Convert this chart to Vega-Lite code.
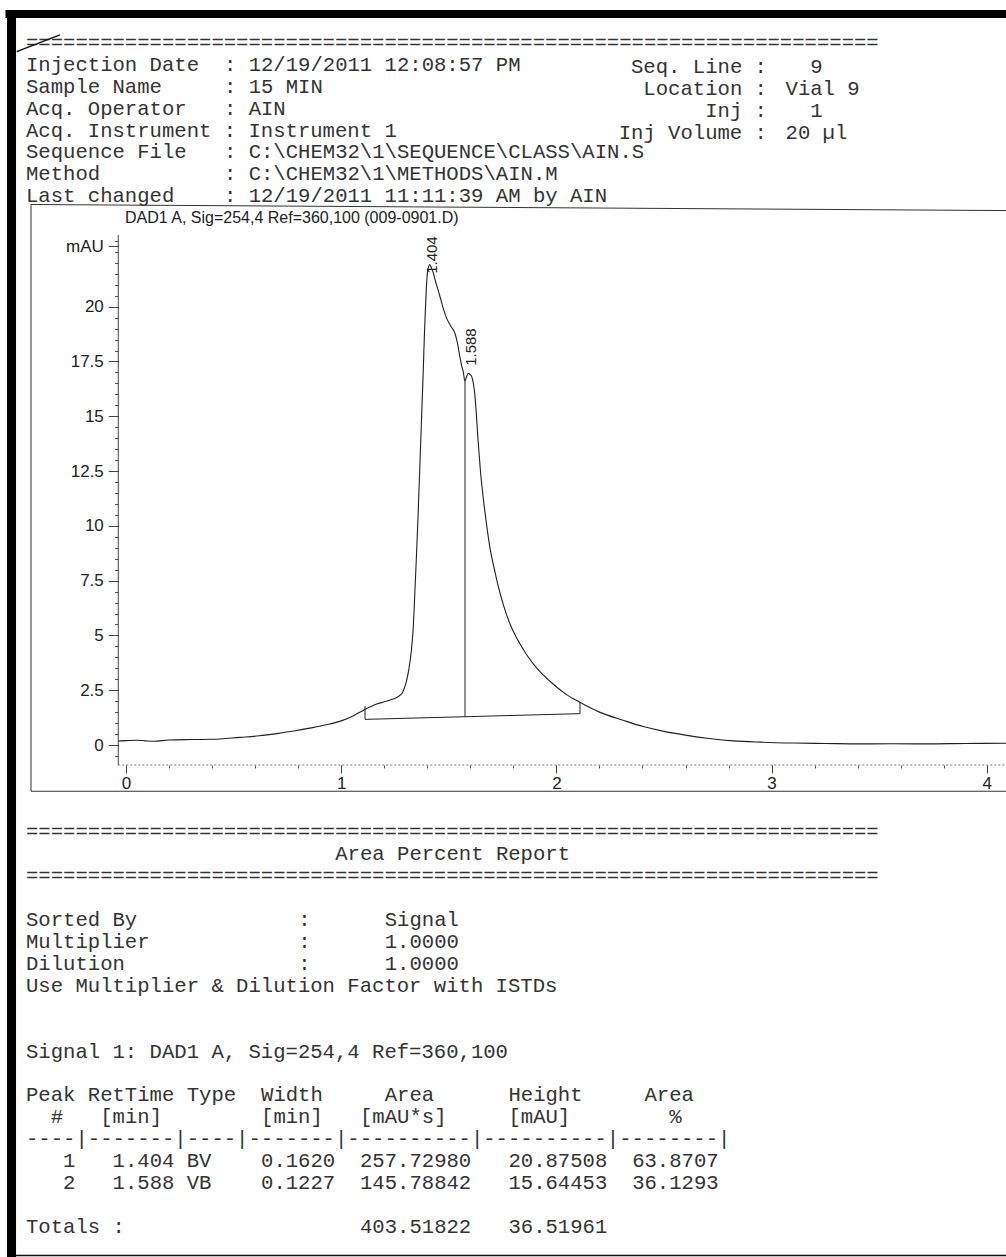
{
  "$schema": "https://vega.github.io/schema/vega-lite/v6.json",
  "width": 1006,
  "height": 1257,
  "padding": 0,
  "autosize": {"type": "none"},
  "background": "#ffffff",
  "config": {"view": {"stroke": null}},
  "datasets": {
    "textL": [
      {"col": 0, "n": 0, "text": "====================================================================="},
      {"col": 0, "n": 1, "text": "Injection Date"},
      {"col": 16, "n": 1, "text": ": 12/19/2011 12:08:57 PM"},
      {"col": 0, "n": 2, "text": "Sample Name"},
      {"col": 16, "n": 2, "text": ": 15 MIN"},
      {"col": 0, "n": 3, "text": "Acq. Operator"},
      {"col": 16, "n": 3, "text": ": AIN"},
      {"col": 0, "n": 4, "text": "Acq. Instrument : Instrument 1"},
      {"col": 0, "n": 5, "text": "Sequence File"},
      {"col": 16, "n": 5, "text": ": C:\\CHEM32\\1\\SEQUENCE\\CLASS\\AIN.S"},
      {"col": 0, "n": 6, "text": "Method"},
      {"col": 16, "n": 6, "text": ": C:\\CHEM32\\1\\METHODS\\AIN.M"},
      {"col": 0, "n": 7, "text": "Last changed"},
      {"col": 16, "n": 7, "text": ": 12/19/2011 11:11:39 AM by AIN"},
      {"col": 63.4, "n": 1.117, "text": "9"},
      {"col": 61.4, "n": 2.107, "text": "Vial 9"},
      {"col": 63.4, "n": 3.096, "text": "1"},
      {"col": 61.4, "n": 4.126, "text": "20 µl"},
      {"col": 0, "n": 36, "text": "====================================================================="},
      {"col": 25, "n": 37, "text": "Area Percent Report"},
      {"col": 0, "n": 38, "text": "====================================================================="},
      {"col": 0, "n": 40, "text": "Sorted By"},
      {"col": 22, "n": 40, "text": ":"},
      {"col": 29, "n": 40, "text": "Signal"},
      {"col": 0, "n": 41, "text": "Multiplier"},
      {"col": 22, "n": 41, "text": ":"},
      {"col": 29, "n": 41, "text": "1.0000"},
      {"col": 0, "n": 42, "text": "Dilution"},
      {"col": 22, "n": 42, "text": ":"},
      {"col": 29, "n": 42, "text": "1.0000"},
      {"col": 0, "n": 43, "text": "Use Multiplier & Dilution Factor with ISTDs"},
      {"col": 0, "n": 46, "text": "Signal 1: DAD1 A, Sig=254,4 Ref=360,100"},
      {"col": 0, "n": 48, "text": "Peak RetTime Type"},
      {"col": 19, "n": 48, "text": "Width"},
      {"col": 29, "n": 48, "text": "Area"},
      {"col": 39, "n": 48, "text": "Height"},
      {"col": 50, "n": 48, "text": "Area"},
      {"col": 2, "n": 49, "text": "#"},
      {"col": 6, "n": 49, "text": "[min]"},
      {"col": 19, "n": 49, "text": "[min]"},
      {"col": 27, "n": 49, "text": "[mAU*s]"},
      {"col": 39, "n": 49, "text": "[mAU]"},
      {"col": 52, "n": 49, "text": "%"},
      {"col": 0, "n": 50, "text": "----|-------|----|-------|----------|----------|--------|"},
      {"col": 3, "n": 51, "text": "1"},
      {"col": 7, "n": 51, "text": "1.404 BV"},
      {"col": 19, "n": 51, "text": "0.1620"},
      {"col": 27, "n": 51, "text": "257.72980"},
      {"col": 39, "n": 51, "text": "20.87508"},
      {"col": 49, "n": 51, "text": "63.8707"},
      {"col": 3, "n": 52, "text": "2"},
      {"col": 7, "n": 52, "text": "1.588 VB"},
      {"col": 19, "n": 52, "text": "0.1227"},
      {"col": 27, "n": 52, "text": "145.78842"},
      {"col": 39, "n": 52, "text": "15.64453"},
      {"col": 49, "n": 52, "text": "36.1293"},
      {"col": 0, "n": 54, "text": "Totals :"},
      {"col": 27, "n": 54, "text": "403.51822"},
      {"col": 39, "n": 54, "text": "36.51961"}
    ],
    "textR": [
      {"col": 59.9, "n": 1.117, "text": "Seq. Line :"},
      {"col": 59.9, "n": 2.107, "text": "Location :"},
      {"col": 59.9, "n": 3.096, "text": "Inj :"},
      {"col": 59.9, "n": 4.126, "text": "Inj Volume :"}
    ],
    "trace": [
      {"t": -0.036, "mAU": 0.18}, {"t": 0.0, "mAU": 0.2}, {"t": 0.05, "mAU": 0.22}, {"t": 0.09, "mAU": 0.19},
      {"t": 0.13, "mAU": 0.17}, {"t": 0.2, "mAU": 0.23}, {"t": 0.3, "mAU": 0.25}, {"t": 0.4, "mAU": 0.26},
      {"t": 0.53, "mAU": 0.35}, {"t": 0.62, "mAU": 0.42}, {"t": 0.7, "mAU": 0.52}, {"t": 0.78, "mAU": 0.64},
      {"t": 0.86, "mAU": 0.78}, {"t": 0.93, "mAU": 0.92}, {"t": 1.0, "mAU": 1.1}, {"t": 1.06, "mAU": 1.35},
      {"t": 1.11, "mAU": 1.62}, {"t": 1.165, "mAU": 1.87}, {"t": 1.2, "mAU": 1.97}, {"t": 1.23, "mAU": 2.06},
      {"t": 1.26, "mAU": 2.18}, {"t": 1.285, "mAU": 2.4}, {"t": 1.303, "mAU": 2.9}, {"t": 1.315, "mAU": 3.5},
      {"t": 1.326, "mAU": 4.3}, {"t": 1.335, "mAU": 5.4}, {"t": 1.342, "mAU": 6.9}, {"t": 1.35, "mAU": 8.7},
      {"t": 1.357, "mAU": 10.4}, {"t": 1.365, "mAU": 12.6}, {"t": 1.373, "mAU": 14.8}, {"t": 1.381, "mAU": 17.0},
      {"t": 1.388, "mAU": 19.1}, {"t": 1.395, "mAU": 20.7}, {"t": 1.401, "mAU": 21.6}, {"t": 1.407, "mAU": 21.85},
      {"t": 1.412, "mAU": 21.92}, {"t": 1.42, "mAU": 21.75}, {"t": 1.427, "mAU": 21.57}, {"t": 1.44, "mAU": 21.1},
      {"t": 1.458, "mAU": 20.5}, {"t": 1.475, "mAU": 19.9}, {"t": 1.489, "mAU": 19.5}, {"t": 1.51, "mAU": 19.1},
      {"t": 1.528, "mAU": 18.8}, {"t": 1.54, "mAU": 18.35}, {"t": 1.551, "mAU": 17.73}, {"t": 1.56, "mAU": 17.3},
      {"t": 1.567, "mAU": 17.04}, {"t": 1.575, "mAU": 16.6}, {"t": 1.582, "mAU": 16.8}, {"t": 1.59, "mAU": 16.95},
      {"t": 1.6, "mAU": 16.9}, {"t": 1.607, "mAU": 16.8}, {"t": 1.614, "mAU": 16.5}, {"t": 1.621, "mAU": 15.99},
      {"t": 1.628, "mAU": 15.1}, {"t": 1.636, "mAU": 13.9}, {"t": 1.647, "mAU": 12.5}, {"t": 1.66, "mAU": 11.28},
      {"t": 1.675, "mAU": 10.1}, {"t": 1.691, "mAU": 9.01}, {"t": 1.71, "mAU": 8.1}, {"t": 1.729, "mAU": 7.27},
      {"t": 1.755, "mAU": 6.35}, {"t": 1.784, "mAU": 5.53}, {"t": 1.82, "mAU": 4.8}, {"t": 1.861, "mAU": 4.13},
      {"t": 1.91, "mAU": 3.5}, {"t": 1.97, "mAU": 2.91}, {"t": 2.047, "mAU": 2.3}, {"t": 2.109, "mAU": 1.95},
      {"t": 2.2, "mAU": 1.5}, {"t": 2.31, "mAU": 1.13}, {"t": 2.404, "mAU": 0.84}, {"t": 2.5, "mAU": 0.62},
      {"t": 2.606, "mAU": 0.44}, {"t": 2.71, "mAU": 0.3}, {"t": 2.822, "mAU": 0.19}, {"t": 2.95, "mAU": 0.13},
      {"t": 3.1, "mAU": 0.09}, {"t": 3.25, "mAU": 0.07}, {"t": 3.41, "mAU": 0.05}, {"t": 3.56, "mAU": 0.06},
      {"t": 3.72, "mAU": 0.05}, {"t": 3.9, "mAU": 0.07}, {"t": 4.09, "mAU": 0.08}
    ],
    "segs": [
      {"t1": 1.1106, "v1": 1.17, "t2": 2.1097, "v2": 1.43},
      {"t1": 1.1106, "v1": 1.17, "t2": 1.1106, "v2": 1.78},
      {"t1": 2.1097, "v1": 1.43, "t2": 2.1097, "v2": 1.95},
      {"t1": 1.5753, "v1": 1.291, "t2": 1.5753, "v2": 16.6}
    ],
    "peaks": [
      {"rt": 1.404, "top": 21.5, "label": "1.404"},
      {"rt": 1.588, "top": 17.3, "label": "1.588"}
    ]
  },
  "layer": [
    {
      "layer": [
        {
          "data": {"name": "textL"},
          "mark": {"type": "text", "align": "left", "baseline": "alphabetic", "font": "Liberation Mono", "fontSize": 20.6, "color": "#333333"},
          "encoding": {
            "x": {"field": "col", "type": "quantitative", "scale": {"domain": [-2.102, 79.224], "nice": false, "zero": false}, "axis": null},
            "y": {"field": "n", "type": "quantitative", "scale": {"domain": [-2.2253, 55.093], "reverse": true, "nice": false, "zero": false}, "axis": null},
            "text": {"field": "text"}
          }
        },
        {
          "data": {"name": "textR"},
          "mark": {"type": "text", "align": "right", "baseline": "alphabetic", "font": "Liberation Mono", "fontSize": 20.6, "color": "#333333"},
          "encoding": {
            "x": {"field": "col", "type": "quantitative", "scale": {"domain": [-2.102, 79.224], "nice": false, "zero": false}, "axis": null},
            "y": {"field": "n", "type": "quantitative", "scale": {"domain": [-2.2253, 55.093], "reverse": true, "nice": false, "zero": false}, "axis": null},
            "text": {"field": "text"}
          }
        }
      ]
    },
    {
      "layer": [
        {
          "data": {"values": [{}]},
          "mark": {"type": "rect", "color": "#000000"},
          "encoding": {
            "x": {"datum": -0.56, "type": "quantitative", "scale": {"domain": [-0.5855, 4.0892], "nice": false, "zero": false}, "axis": null},
            "x2": {"datum": 4.2},
            "y": {"datum": 33.539, "type": "quantitative", "scale": {"domain": [-23.363, 33.995], "nice": false, "zero": false}, "axis": null},
            "y2": {"datum": 33.174}
          }
        },
        {
          "data": {"values": [{}]},
          "mark": {"type": "rect", "color": "#000000"},
          "encoding": {
            "x": {"datum": -0.553, "type": "quantitative", "scale": {"domain": [-0.5855, 4.0892], "nice": false, "zero": false}, "axis": null},
            "x2": {"datum": -0.511},
            "y": {"datum": 33.539, "type": "quantitative", "scale": {"domain": [-23.363, 33.995], "nice": false, "zero": false}, "axis": null},
            "y2": {"datum": -23.4}
          }
        },
        {
          "data": {"values": [{}]},
          "mark": {"type": "rule", "color": "#111111", "strokeWidth": 1.5},
          "encoding": {
            "x": {"datum": -0.511, "type": "quantitative", "scale": {"domain": [-0.5855, 4.0892], "nice": false, "zero": false}, "axis": null},
            "x2": {"datum": 4.2},
            "y": {"datum": -23.29, "type": "quantitative", "scale": {"domain": [-23.363, 33.995], "nice": false, "zero": false}, "axis": null}
          }
        },
        {
          "data": {"values": [{}]},
          "mark": {"type": "rule", "color": "#111111", "strokeWidth": 1.3},
          "encoding": {
            "x": {"datum": -0.508, "type": "quantitative", "scale": {"domain": [-0.5855, 4.0892], "nice": false, "zero": false}, "axis": null},
            "x2": {"datum": -0.3067},
            "y": {"datum": 31.64, "type": "quantitative", "scale": {"domain": [-23.363, 33.995], "nice": false, "zero": false}, "axis": null},
            "y2": {"datum": 32.4}
          }
        },
        {
          "data": {"values": [{}]},
          "mark": {"type": "rule", "color": "#333333", "strokeWidth": 1},
          "encoding": {
            "x": {"datum": -0.4414, "type": "quantitative", "scale": {"domain": [-0.5855, 4.0892], "nice": false, "zero": false}, "axis": null},
            "y": {"datum": -2.11, "type": "quantitative", "scale": {"domain": [-23.363, 33.995], "nice": false, "zero": false}, "axis": null},
            "y2": {"datum": 24.663}
          }
        },
        {
          "data": {"values": [{}]},
          "mark": {"type": "rule", "color": "#333333", "strokeWidth": 1},
          "encoding": {
            "x": {"datum": -0.4414, "type": "quantitative", "scale": {"domain": [-0.5855, 4.0892], "nice": false, "zero": false}, "axis": null},
            "x2": {"datum": 4.2},
            "y": {"datum": 24.663, "type": "quantitative", "scale": {"domain": [-23.363, 33.995], "nice": false, "zero": false}, "axis": null},
            "y2": {"datum": 24.38}
          }
        },
        {
          "data": {"values": [{}]},
          "mark": {"type": "rule", "color": "#333333", "strokeWidth": 1.2},
          "encoding": {
            "x": {"datum": -0.4414, "type": "quantitative", "scale": {"domain": [-0.5855, 4.0892], "nice": false, "zero": false}, "axis": null},
            "x2": {"datum": 4.2},
            "y": {"datum": -2.11, "type": "quantitative", "scale": {"domain": [-23.363, 33.995], "nice": false, "zero": false}, "axis": null}
          }
        },
        {
          "data": {"values": [{}]},
          "mark": {"type": "rule", "color": "#444444", "strokeWidth": 1},
          "encoding": {
            "x": {"datum": -0.0358, "type": "quantitative", "scale": {"domain": [-0.5855, 4.0892], "nice": false, "zero": false}, "axis": null},
            "y": {"datum": -0.913, "type": "quantitative", "scale": {"domain": [-23.363, 33.995], "nice": false, "zero": false},
              "axis": {"orient": "left", "offset": -118.3, "values": [-0.5, 0, 0.5, 1, 1.5, 2, 2.5, 3, 3.5, 4, 4.5, 5, 5.5, 6, 6.5, 7, 7.5, 8, 8.5, 9, 9.5, 10, 10.5, 11, 11.5, 12, 12.5, 13, 13.5, 14, 14.5, 15, 15.5, 16, 16.5, 17, 17.5, 18, 18.5, 19, 19.5, 20, 20.5, 21, 21.5, 22, 22.5, 23], "labels": false, "domain": false, "grid": false, "ticks": true, "tickSize": 4, "tickColor": "#555555", "tickWidth": 1, "title": null}},
            "y2": {"datum": 23.27}
          }
        },
        {
          "data": {"values": [{}]},
          "mark": {"type": "rule", "color": "#777777", "strokeWidth": 1, "strokeDash": [2, 2]},
          "encoding": {
            "x": {"datum": -0.0358, "type": "quantitative", "scale": {"domain": [-0.5855, 4.0892], "nice": false, "zero": false},
              "axis": {"orient": "bottom", "offset": -492, "values": [0, 0.2, 0.4, 0.6, 0.8, 1, 1.2, 1.4, 1.6, 1.8, 2, 2.2, 2.4, 2.6, 2.8, 3, 3.2, 3.4, 3.6, 3.8, 4], "labels": false, "domain": false, "grid": false, "ticks": true, "tickSize": 3, "tickColor": "#555555", "tickWidth": 1, "title": null}},
            "x2": {"datum": 4.2},
            "y": {"datum": -0.913, "type": "quantitative", "scale": {"domain": [-23.363, 33.995], "nice": false, "zero": false}, "axis": null}
          }
        },
        {
          "data": {"values": [{}]},
          "mark": {"type": "text", "text": "DAD1 A, Sig=254,4 Ref=360,100 (009-0901.D)", "font": "Liberation Sans", "fontSize": 16, "align": "left", "baseline": "alphabetic", "color": "#222222"},
          "encoding": {
            "x": {"datum": -0.0046, "type": "quantitative", "scale": {"domain": [-0.5855, 4.0892], "nice": false, "zero": false}, "axis": null},
            "y": {"datum": 23.83, "type": "quantitative", "scale": {"domain": [-23.363, 33.995], "nice": false, "zero": false}, "axis": null}
          }
        },
        {
          "data": {"name": "segs"},
          "mark": {"type": "rule", "color": "#222222", "strokeWidth": 1},
          "encoding": {
            "x": {"field": "t1", "type": "quantitative", "scale": {"domain": [-0.5855, 4.0892], "nice": false, "zero": false}, "axis": null},
            "x2": {"field": "t2"},
            "y": {"field": "v1", "type": "quantitative", "scale": {"domain": [-23.363, 33.995], "nice": false, "zero": false}, "axis": null},
            "y2": {"field": "v2"}
          }
        },
        {
          "data": {"name": "trace"},
          "mark": {"type": "line", "color": "#1f1f1f", "strokeWidth": 1.1, "interpolate": "monotone"},
          "encoding": {
            "x": {"field": "t", "type": "quantitative", "scale": {"domain": [-0.5855, 4.0892], "nice": false, "zero": false},
              "axis": {"orient": "bottom", "offset": -492, "values": [0, 1, 2, 3, 4], "labelExpr": "'' + datum.value", "domain": false, "grid": false, "ticks": true, "tickSize": 8, "tickColor": "#444444", "tickWidth": 1, "labelFont": "Liberation Sans", "labelFontSize": 17, "labelColor": "#222222", "labelPadding": 2, "labelFlush": false, "labelOverlap": false, "title": null}},
            "y": {"field": "mAU", "type": "quantitative", "scale": {"domain": [-23.363, 33.995], "nice": false, "zero": false},
              "axis": {"orient": "left", "offset": -118.3, "values": [0, 2.5, 5, 7.5, 10, 12.5, 15, 17.5, 20, 22.75], "labelExpr": "datum.value > 21 ? 'mAU' : '' + datum.value", "domain": false, "grid": false, "ticks": true, "tickSize": 10, "tickColor": "#444444", "tickWidth": 1, "labelFont": "Liberation Sans", "labelFontSize": 17, "labelColor": "#222222", "labelPadding": 5, "labelFlush": false, "labelOverlap": false, "title": null}}
          }
        },
        {
          "data": {"name": "peaks"},
          "mark": {"type": "text", "angle": 270, "align": "left", "baseline": "middle", "dy": 3.5, "font": "Liberation Sans", "fontSize": 15, "color": "#222222"},
          "encoding": {
            "x": {"field": "rt", "type": "quantitative", "scale": {"domain": [-0.5855, 4.0892], "nice": false, "zero": false}, "axis": null},
            "y": {"field": "top", "type": "quantitative", "scale": {"domain": [-23.363, 33.995], "nice": false, "zero": false}, "axis": null},
            "text": {"field": "label"}
          }
        }
      ],
      "resolve": {"axis": {"x": "independent", "y": "independent"}}
    }
  ],
  "resolve": {"scale": {"x": "independent", "y": "independent"}}
}
